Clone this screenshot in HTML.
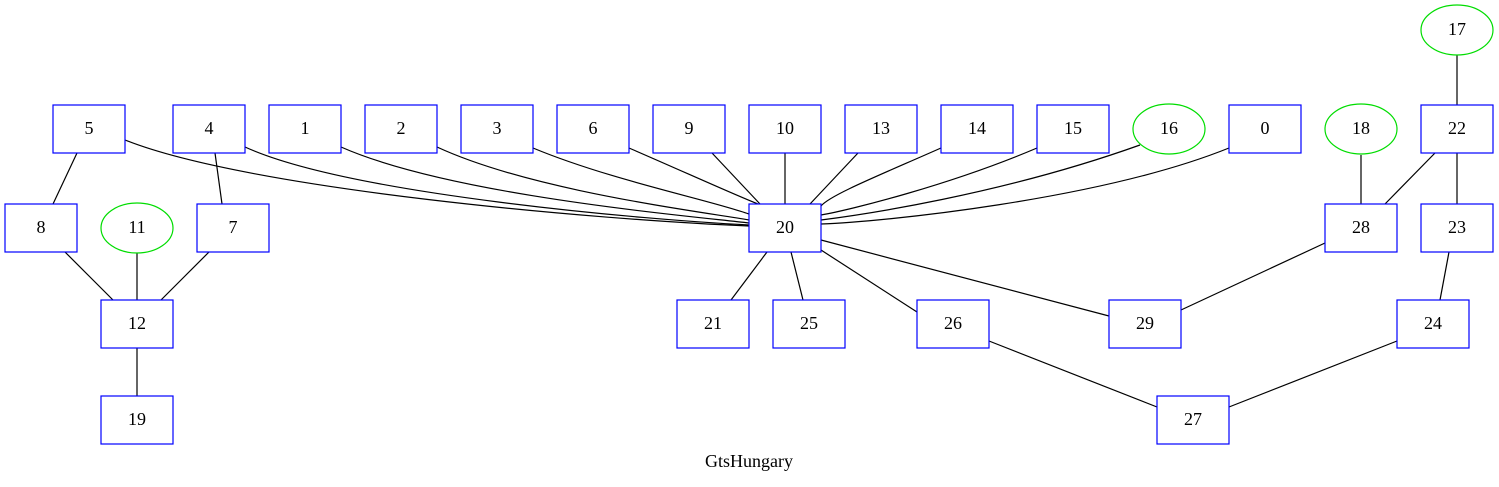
<!DOCTYPE html>
<html><head><style>body{margin:0;background:#fff}svg{display:block}</style></head><body>
<svg width="1499" height="487" viewBox="0 0 1499 487" xmlns="http://www.w3.org/2000/svg" font-family="Liberation Serif, serif" font-size="18">
<g stroke="#000" stroke-width="1.2" fill="none">
<path d="M125,140 C250,190 600,220 749,226"/>
<path d="M245,147 C350,195 650,220 749,225"/>
<path d="M341,147 C450,195 680,215 749,223"/>
<path d="M437,147 C530,190 690,210 749,220"/>
<path d="M533,148 C610,180 710,200 749,214"/>
<path d="M629,148 C680,170 735,195 758,204"/>
<path d="M941,148 C880,175 830,195 821,206"/>
<path d="M1037,148 C950,185 850,210 821,215"/>
<path d="M1140,145 C1000,195 860,215 821,220"/>
<path d="M1229,148 C1100,200 880,222 821,224"/>
<line x1="712" y1="153" x2="760" y2="204"/>
<line x1="785" y1="153" x2="785" y2="204"/>
<line x1="858" y1="153" x2="810" y2="204"/>
<line x1="77" y1="153" x2="53" y2="204"/>
<line x1="215" y1="153" x2="222" y2="204"/>
<line x1="65" y1="252" x2="113" y2="300"/>
<line x1="137" y1="253" x2="137" y2="300"/>
<line x1="209" y1="252" x2="161" y2="300"/>
<line x1="137" y1="348" x2="137" y2="396"/>
<line x1="767" y1="252" x2="731" y2="300"/>
<line x1="791" y1="252" x2="803" y2="300"/>
<line x1="821" y1="250" x2="917" y2="312"/>
<line x1="821" y1="240" x2="1109" y2="316"/>
<line x1="1325" y1="243" x2="1181" y2="310"/>
<line x1="1361" y1="155" x2="1361" y2="204"/>
<line x1="1435" y1="153" x2="1385" y2="204"/>
<line x1="1457" y1="153" x2="1457" y2="204"/>
<line x1="1457" y1="55" x2="1457" y2="105"/>
<line x1="1449" y1="252" x2="1440" y2="300"/>
<line x1="1397" y1="341" x2="1229" y2="407"/>
<line x1="989" y1="341" x2="1157" y2="407"/>
</g>
<g fill="#fff" stroke="#0000ff" stroke-width="1.2">
<rect x="53" y="105" width="72" height="48"/><rect x="173" y="105" width="72" height="48"/>
<rect x="269" y="105" width="72" height="48"/><rect x="365" y="105" width="72" height="48"/>
<rect x="461" y="105" width="72" height="48"/><rect x="557" y="105" width="72" height="48"/>
<rect x="653" y="105" width="72" height="48"/><rect x="749" y="105" width="72" height="48"/>
<rect x="845" y="105" width="72" height="48"/><rect x="941" y="105" width="72" height="48"/>
<rect x="1037" y="105" width="72" height="48"/><rect x="1229" y="105" width="72" height="48"/>
<rect x="1421" y="105" width="72" height="48"/>
<rect x="5" y="204" width="72" height="48"/><rect x="197" y="204" width="72" height="48"/>
<rect x="749" y="204" width="72" height="48"/><rect x="1325" y="204" width="72" height="48"/>
<rect x="1421" y="204" width="72" height="48"/>
<rect x="101" y="300" width="72" height="48"/><rect x="677" y="300" width="72" height="48"/>
<rect x="773" y="300" width="72" height="48"/><rect x="917" y="300" width="72" height="48"/>
<rect x="1109" y="300" width="72" height="48"/><rect x="1397" y="300" width="72" height="48"/>
<rect x="101" y="396" width="72" height="48"/><rect x="1157" y="396" width="72" height="48"/>
</g>
<g fill="#fff" stroke="#00dd00" stroke-width="1.2">
<ellipse cx="1169" cy="129" rx="36" ry="25"/><ellipse cx="1361" cy="129" rx="36" ry="25"/>
<ellipse cx="1457" cy="30" rx="36" ry="25"/><ellipse cx="137" cy="228" rx="36" ry="25"/>
</g>
<g text-anchor="middle" fill="#000">
<text x="89" y="134">5</text><text x="209" y="134">4</text><text x="305" y="134">1</text>
<text x="401" y="134">2</text><text x="497" y="134">3</text><text x="593" y="134">6</text>
<text x="689" y="134">9</text><text x="785" y="134">10</text><text x="881" y="134">13</text>
<text x="977" y="134">14</text><text x="1073" y="134">15</text><text x="1169" y="134">16</text>
<text x="1265" y="134">0</text><text x="1361" y="134">18</text><text x="1457" y="134">22</text>
<text x="1457" y="35">17</text>
<text x="41" y="233">8</text><text x="137" y="233">11</text><text x="233" y="233">7</text>
<text x="785" y="233">20</text><text x="1361" y="233">28</text><text x="1457" y="233">23</text>
<text x="137" y="329">12</text><text x="713" y="329">21</text><text x="809" y="329">25</text>
<text x="953" y="329">26</text><text x="1145" y="329">29</text><text x="1433" y="329">24</text>
<text x="137" y="425">19</text><text x="1193" y="425">27</text>
<text x="749" y="467">GtsHungary</text>
</g>
</svg>
</body></html>
